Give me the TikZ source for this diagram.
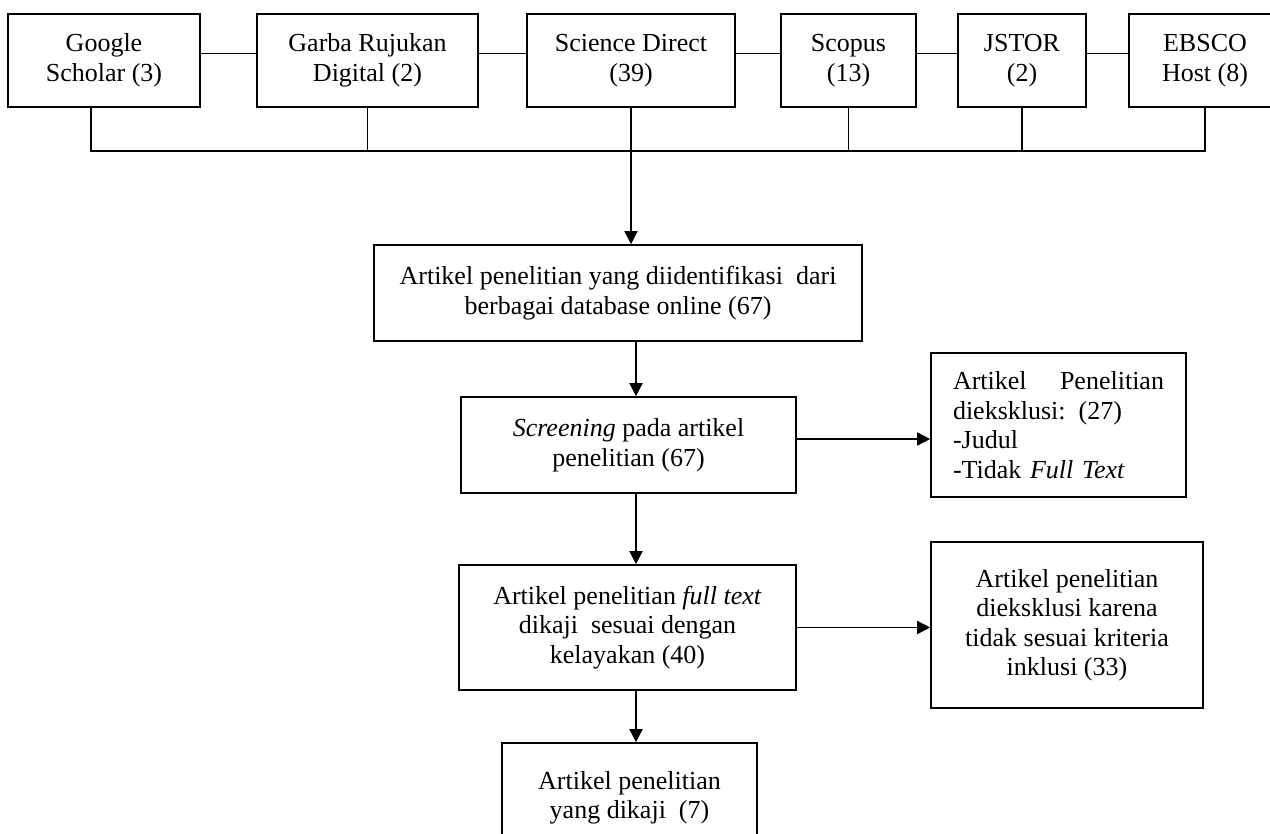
\documentclass[tikz,border=0pt]{standalone}
\usepackage{fontspec}
\setmainfont{Liberation Serif}
\usetikzlibrary{arrows.meta}
\tikzset{
  >={Triangle[length=13pt,width=13pt]},
  box/.style={draw,align=center,inner sep=0pt,font=\fontsize{26}{29.5}\selectfont}
}

\begin{document}
\begin{tikzpicture}[x=1pt,y=-1pt,line width=1.6pt]
      \useasboundingbox (0,0) rectangle (1270,834);
      \node[box,minimum width=192,minimum height=93] (gs) at (104,60.5) {Google\\Scholar (3)};
      \node[box,minimum width=221,minimum height=93] (grd) at (367.5,60.5) {Garba Rujukan\\Digital (2)};
      \node[box,minimum width=208,minimum height=93] (sd) at (631,60.5) {Science Direct\\(39)};
      \node[box,minimum width=135,minimum height=93] (sc) at (848.5,60.5) {Scopus\\(13)};
      \node[box,minimum width=128,minimum height=93] (js) at (1022,60.5) {JSTOR\\(2)};
      \node[box,minimum width=152,minimum height=93] (eb) at (1205,60.5) {EBSCO\\Host (8)};
      \foreach \a/\b in {gs/grd,grd/sd,sd/sc,sc/js,js/eb}
        \draw ([yshift=7]\a.east) -- ([yshift=7]\b.west);
      \coordinate (bus) at (0,151);
      \coordinate (spine) at (636,0);
      \draw ([xshift=-13]gs.south) |- (bus -| eb.south) -- (eb.south);
      \foreach \n in {grd,sc,js}
        \draw (\n.south) -- (\n.south |- bus);
      \node[box,minimum width=488,minimum height=96] (b1) at (618,293)
        {Artikel penelitian yang diidentifikasi \ dari\\berbagai database online (67)};
      \node[box,minimum width=335,minimum height=96] (b2) at (628.5,445)
        {\textit{Screening} pada artikel\\penelitian (67)};
      \node[box,minimum width=337,minimum height=125] (b3) at (627.5,627.5)
        {Artikel penelitian \textit{full text}\\dikaji \ sesuai dengan\\kelayakan (40)};
      \node[box,minimum width=255,minimum height=110] (b4) at (629.5,798)
        {Artikel penelitian\\yang dikaji \ (7)};
      \node[box,align=left,text width=211,minimum width=255,minimum height=144] (ex1) at (1058.5,425)
        {Artikel\hfill Penelitian\\dieksklusi: (27)\\-Judul\\-Tidak \textit{Full Text}};
      \node[box,minimum width=272,minimum height=166] (ex2) at (1067,625)
        {Artikel penelitian\\dieksklusi karena\\tidak sesuai kriteria\\inklusi (33)};
      \draw[->] (sd.south) -- (sd.south |- b1.north);
      \draw[->] (b1.south -| spine) -- (b2.north -| spine);
      \draw[->] (b2.south -| spine) -- (b3.north -| spine);
      \draw[->] (b3.south -| spine) -- (b4.north -| spine);
      \draw[->] ([yshift=6]b2.east) -- ([yshift=6]b2.east -| ex1.west);
      \draw[->] (b3.east) -- (b3.east -| ex2.west);
    \end{tikzpicture}
\end{document}
